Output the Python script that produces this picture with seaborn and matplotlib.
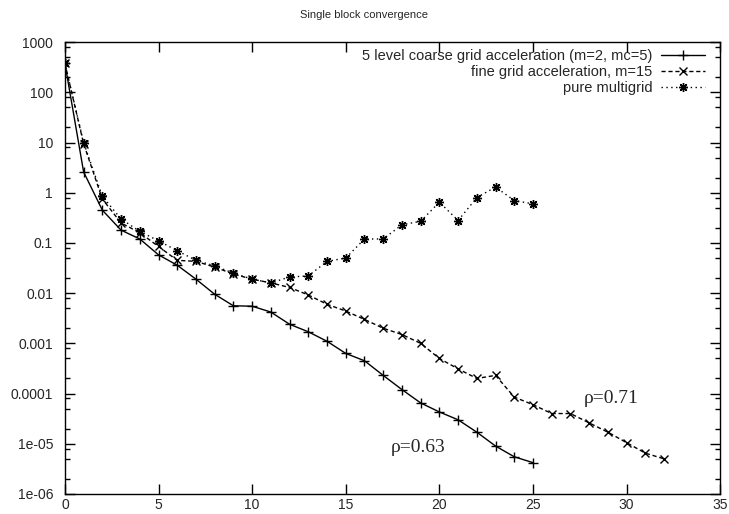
import pandas as pd
import numpy as np
import matplotlib
matplotlib.use('Agg')
import matplotlib.pyplot as plt
import seaborn as sns

# ── données ───────────────────────────────────────────────────────────────────
coarse_x = list(range(0, 26))
coarse_y = [380, 2.6, 0.45, 0.18, 0.12, 0.058, 0.036, 0.019, 0.0095, 0.0056,
            0.0055, 0.0042, 0.0024, 0.0017, 0.0011, 0.00063, 0.00045, 0.00023,
            0.00012, 6.5e-5, 4.3e-5, 3e-5, 1.7e-5, 9e-6, 5.5e-6, 4.2e-6]

fine_x = list(range(0, 33))
fine_y = [380, 9.5, 0.75, 0.25, 0.16, 0.085, 0.045, 0.043, 0.033, 0.024,
          0.019, 0.016, 0.013, 0.0092, 0.0060, 0.0044, 0.0030, 0.0020, 0.0015,
          0.0010, 0.0005, 0.00031, 0.00020, 0.00023, 8.5e-5, 6e-5, 4e-5, 4e-5,
          2.6e-5, 1.7e-5, 1.05e-5, 6.5e-6, 5e-6]

pure_x = list(range(0, 26))
pure_y = [380, 10, 0.85, 0.3, 0.17, 0.11, 0.07, 0.045, 0.035, 0.025, 0.019,
          0.016, 0.021, 0.022, 0.043, 0.05, 0.12, 0.12, 0.23, 0.27, 0.65,
          0.28, 0.8, 1.3, 0.7, 0.6]

labels = ['5 level coarse grid acceleration (m=2, mc=5)',
          'fine grid acceleration, m=15',
          'pure multigrid']

yticks = [1e3, 1e2, 1e1, 1, 0.1, 0.01, 0.001, 0.0001, 1e-5, 1e-6]
ytick_labels = ['1000', '100', '10', '1', '0.1', '0.01', '0.001', '0.0001',
                '1e-05', '1e-06']
xticks = [0, 5, 10, 15, 20, 25, 30, 35]

# ── style ─────────────────────────────────────────────────────────────────────
sns.set_style('ticks')
plt.rcParams['font.family'] = ['Liberation Sans', 'DejaVu Sans']

fig = plt.figure(figsize=(7.29, 5.14), dpi=100)
ax = fig.add_axes([0.089, 0.039, 0.899, 0.879])

common = dict(ax=ax, color='black', lw=1.0, mec='black', mfc='black', mew=1.0)
sns.lineplot(x=coarse_x, y=coarse_y, linestyle='-', marker='+',
             markersize=7, label=labels[0], **common)
sns.lineplot(x=fine_x, y=fine_y, linestyle=(0, (3, 2)), marker='x',
             markersize=5.5, label=labels[1], **common)
sns.lineplot(x=pure_x, y=pure_y, linestyle=(0, (1, 2.5)), marker=(8, 2, 0),
             markersize=6.5, label=labels[2], **common)

ax.set_yscale('log')
ax.set_xlim(0, 35)
ax.set_ylim(1e-6, 1e3)
ax.set_xticks(xticks)
ax.set_xticklabels([str(t) for t in xticks])
ax.set_yticks(yticks)
ax.set_yticklabels(ytick_labels)
ax.tick_params(axis='both', which='both', direction='in', top=True,
               right=True, labelsize=10, color='black', width=1.0)
ax.tick_params(axis='both', which='major', length=7)
ax.tick_params(axis='y', which='major', pad=8.5)
ax.tick_params(axis='x', which='major', pad=3)
ax.tick_params(axis='y', which='minor', length=3.5)
ax.yaxis.set_minor_locator(matplotlib.ticker.LogLocator(base=10,
                                                        subs=[2, 5, 8],
                                                        numticks=20))
ax.yaxis.set_minor_formatter(matplotlib.ticker.NullFormatter())
for s in ax.spines.values():
    s.set_color('black')
    s.set_linewidth(1.0)
ax.set_xlabel('')
ax.set_ylabel('')

fig.suptitle('Single block convergence', fontsize=8, y=0.98)

leg = ax.legend(loc='upper right', bbox_to_anchor=(0.988, 1.0),
                frameon=False, fontsize=10.5, markerfirst=False,
                handlelength=3.0, labelspacing=0.12, borderaxespad=0.2,
                handletextpad=0.6, borderpad=0.3)

ax.text(17.4, 8.5e-6, 'ρ=0.63', family=['Liberation Serif', 'DejaVu Serif'],
        fontsize=14, va='center')
ax.text(27.7, 8.1e-5, 'ρ=0.71', family=['Liberation Serif', 'DejaVu Serif'],
        fontsize=14, va='center')

plt.savefig('out.png', dpi=100)
